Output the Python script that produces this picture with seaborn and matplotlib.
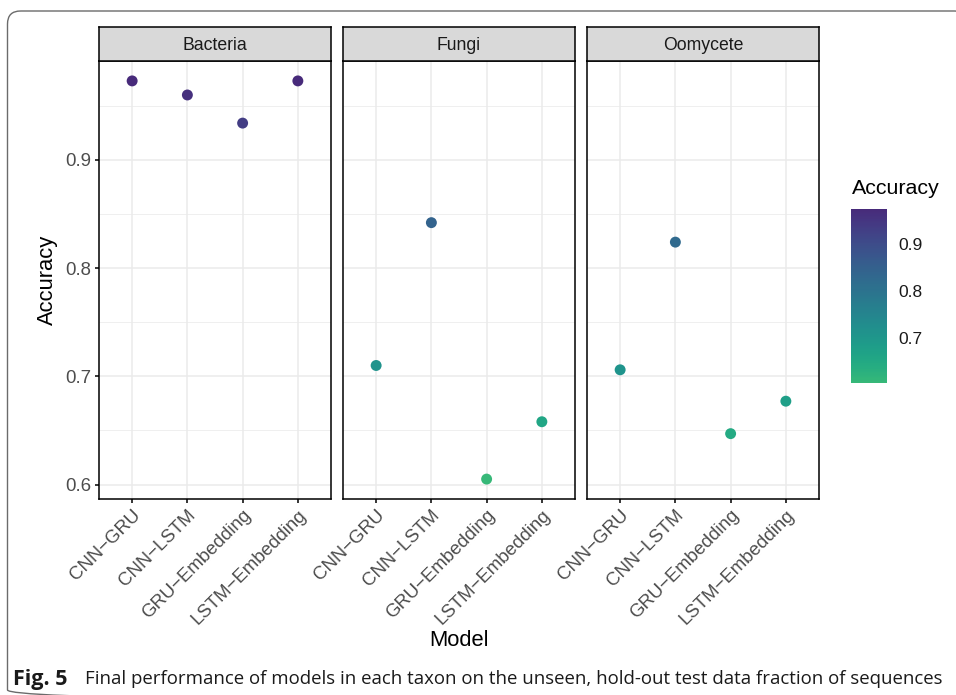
import numpy as np
import pandas as pd
import matplotlib
matplotlib.use("Agg")
import matplotlib.pyplot as plt
import seaborn as sns
from matplotlib.colors import ListedColormap, Normalize
from matplotlib.cm import ScalarMappable
from matplotlib.patches import FancyBboxPatch
from matplotlib.ticker import MultipleLocator

# data
models = ["CNN\u2212GRU", "CNN\u2212LSTM", "GRU\u2212Embedding", "LSTM\u2212Embedding"]
taxa = ["Bacteria", "Fungi", "Oomycete"]
acc_bacteria = [0.973, 0.960, 0.934, 0.973]
acc_fungi = [0.710, 0.842, 0.605, 0.658]
acc_oomycete = [0.706, 0.824, 0.647, 0.677]

df = pd.DataFrame({
    "Taxon": np.repeat(taxa, len(models)),
    "Model": models * len(taxa),
    "Accuracy": acc_bacteria + acc_fungi + acc_oomycete,
})

sns.set_theme(style="white")
plt.rcParams["font.family"] = ["Liberation Sans", "DejaVu Sans"]

W, H = 956, 695
fig = plt.figure(figsize=(W / 100, H / 100), dpi=100)
fig.patch.set_facecolor("white")

# outer frame (rounded, cut off at right and bottom)
frame_ax = fig.add_axes([0, 0, 1, 1], zorder=-5)
frame_ax.set_xlim(0, W)
frame_ax.set_ylim(H, 0)
frame_ax.axis("off")
frame_ax.add_patch(FancyBboxPatch((7.5, 11), 960, 692, boxstyle="round,pad=0,rounding_size=13",
                                  fill=False, edgecolor="#6b6b6b", linewidth=1.0))

cmap = ListedColormap(plt.get_cmap("viridis")(np.linspace(0.67, 0.12, 256)))
vmin, vmax = df["Accuracy"].min(), df["Accuracy"].max()
norm = Normalize(vmin=vmin, vmax=vmax)
span = vmax - vmin
ylo, yhi = vmin - 0.05 * span, vmax + 0.05 * span

panel_x = [99, 343, 587]
pw = 232
ptop, pbot = 61, 499
strip_top = 27

tick_col = "#4d4d4d"
axes = []
for i, taxon in enumerate(taxa):
    x0 = panel_x[i]
    ax = fig.add_axes([x0 / W, (H - pbot) / H, pw / W, (pbot - ptop) / H])
    sub = df[df["Taxon"] == taxon]
    sns.scatterplot(data=sub, x="Model", y="Accuracy", hue="Accuracy", palette=cmap,
                    hue_norm=norm, s=62, linewidth=0, legend=False, ax=ax, zorder=3)
    ax.set_xlim(-0.6, len(models) - 0.4)
    ax.set_ylim(ylo, yhi)
    ax.yaxis.set_major_locator(MultipleLocator(0.1))
    ax.yaxis.set_minor_locator(MultipleLocator(0.05))
    ax.set_xticks(range(len(models)))
    ax.grid(which="major", color="#ebebeb", linewidth=1.1, zorder=0)
    ax.grid(which="minor", axis="y", color="#ebebeb", linewidth=0.55, zorder=0)
    ax.set_axisbelow(True)
    for sp in ax.spines.values():
        sp.set_color("black")
        sp.set_linewidth(1.1)
    ax.tick_params(which="major", direction="out", length=3, width=1.1, color="black",
                   labelsize=13.4, labelcolor=tick_col, pad=2.5)
    ax.tick_params(which="minor", length=0)
    ax.tick_params(axis="y", left=(i == 0), labelleft=(i == 0))
    ax.tick_params(axis="x", bottom=True)
    ax.set_xticklabels(models, rotation=45, ha="right", va="top", rotation_mode="anchor")
    ax.set_xlabel("")
    ax.set_ylabel("")

    # facet strip
    sax = fig.add_axes([x0 / W, (H - ptop) / H, pw / W, (ptop - strip_top) / H])
    sax.set_facecolor("#d9d9d9")
    sax.set_xticks([])
    sax.set_yticks([])
    for sp in sax.spines.values():
        sp.set_color("black")
        sp.set_linewidth(1.1)
    sax.text(0.5, 0.47, taxon, ha="center", va="center", fontsize=12.7, color="#1a1a1a",
             transform=sax.transAxes)
    axes.append(ax)

axes[0].set_ylabel("Accuracy", fontsize=15.8, color="black", va="center")
axes[0].yaxis.set_label_coords((47 - 99) / pw, 0.5)
axes[1].set_xlabel("Model", fontsize=15.8, color="black", va="center")
axes[1].xaxis.set_label_coords(0.5, (pbot - 640) / (pbot - ptop))

# colour bar
cb_x, cb_w, cb_top, cb_bot = 851, 36, 209, 383
cax = fig.add_axes([cb_x / W, (H - cb_bot) / H, cb_w / W, (cb_bot - cb_top) / H])
cb = fig.colorbar(ScalarMappable(norm=norm, cmap=cmap), cax=cax)
cb.outline.set_visible(False)
cb.set_ticks([0.7, 0.8, 0.9])
cb.set_ticklabels(["0.7", "0.8", "0.9"])
cax.yaxis.set_ticks_position("both")
cax.tick_params(direction="in", length=5, width=0.9, color="white", left=True, right=True,
                labelleft=False, labelright=True,
                labelsize=12.5, labelcolor="#1a1a1a", pad=8)
cax.text(0.03, (cb_bot - 188) / (cb_bot - cb_top), "Accuracy", transform=cax.transAxes,
         ha="left", va="center", fontsize=15.4, color="black")

# caption
fig.text(13 / W, 1 - 679 / H, "Fig. 5", fontsize=15.5, fontweight="bold", family="Open Sans",
         ha="left", va="center", color="#1a1a1a")
fig.text(85 / W, 1 - 679 / H,
         "Final performance of models in each taxon on the unseen, hold-out test data fraction of sequences",
         fontsize=13.4, family="Open Sans", ha="left", va="center", color="#1a1a1a")

fig.savefig("out.png", dpi=100)
